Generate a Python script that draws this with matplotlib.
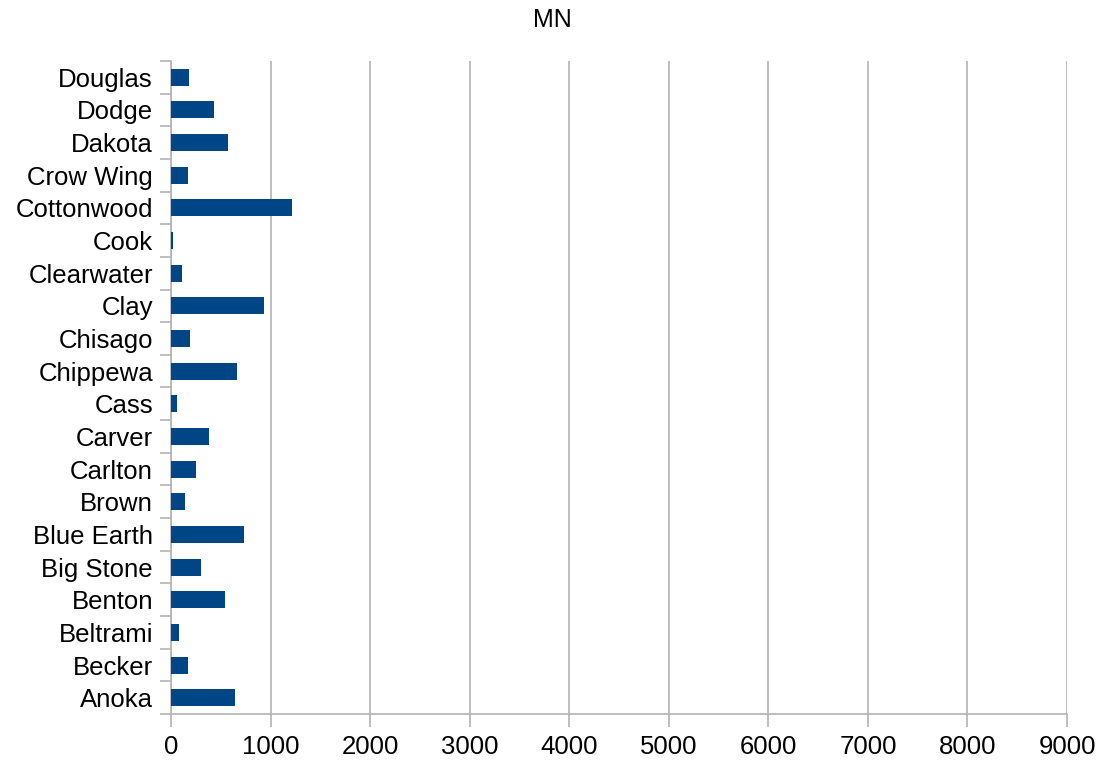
import numpy as np
from matplotlib import pyplot as plt

plt.rcParams["font.family"] = ["Liberation Sans", "DejaVu Sans"]

counties = ["Anoka", "Becker", "Beltrami", "Benton", "Big Stone", "Blue Earth",
            "Brown", "Carlton", "Carver", "Cass", "Chippewa", "Chisago", "Clay",
            "Clearwater", "Cook", "Cottonwood", "Crow Wing", "Dakota", "Dodge",
            "Douglas"]
values = [643, 171, 80, 543, 302, 734, 141, 251, 382, 60, 663, 190, 935,
          110, 20, 1216, 171, 573, 432, 181]
xticks = [0, 1000, 2000, 3000, 4000, 5000, 6000, 7000, 8000, 9000]

fig = plt.figure(figsize=(11, 7.65), dpi=100)
ax = fig.add_axes([171 / 1100, 1 - 714 / 765, (1067 - 171) / 1100, (714 - 61) / 765])

y = np.arange(len(counties))
ax.barh(y, values, height=0.52, color="#004586", zorder=3)

ax.set_xlim(0, 9000)
ax.set_ylim(-0.5, len(counties) - 0.5)
ax.set_xticks(xticks)
ax.set_xticklabels([str(t) for t in xticks], fontsize=18.5)
ax.set_yticks(y)
ax.set_yticklabels(counties, fontsize=18.5)
ax.set_yticks(np.arange(-0.5, len(counties), 1), minor=True)

ax.tick_params(axis="y", which="major", length=0, pad=13)
ax.tick_params(axis="y", which="minor", length=8, color="#b3b3b3", width=1.2)
ax.tick_params(axis="x", length=9, color="#b3b3b3", width=1.2, pad=6)

ax.grid(axis="x", color="#b3b3b3", linewidth=1.2, zorder=0)
for s in ["top", "right"]:
    ax.spines[s].set_visible(False)
for s in ["left", "bottom"]:
    ax.spines[s].set_color("#b3b3b3")
    ax.spines[s].set_linewidth(1.2)

fig.text(552 / 1100, 1 - 20 / 765, "MN", ha="center", va="center", fontsize=18)

fig.savefig("out.png", dpi=100)
